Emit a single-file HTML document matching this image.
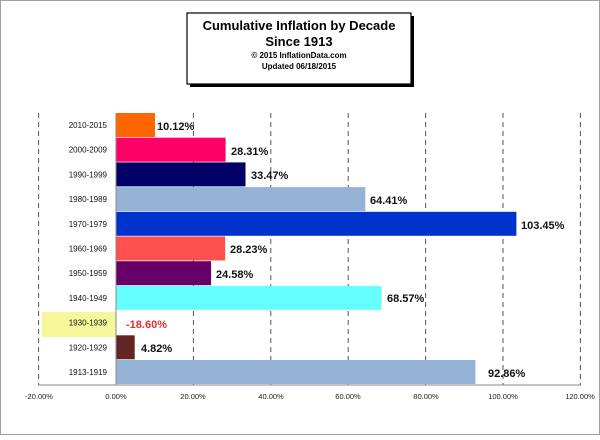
<!DOCTYPE html><html><head><style>body{margin:0;background:#fff}</style></head><body>
<svg width="600" height="435" xmlns="http://www.w3.org/2000/svg" font-family="Liberation Sans, sans-serif">
<rect x="0.5" y="0.5" width="599" height="434" fill="#fff" stroke="#a0a0a0"/>
<rect x="190" y="16" width="224" height="71" fill="#000"/>
<rect x="187" y="13" width="224" height="71" fill="#fff" stroke="#000" stroke-width="1.2"/>
<g text-anchor="middle" font-weight="bold">
<text x="299" y="30" font-size="13">Cumulative Inflation by Decade</text>
<text x="299" y="46" font-size="13">Since 1913</text>
<text x="299" y="58" font-size="8">© 2015  InflationData.com</text>
<text x="299" y="69" font-size="8">Updated  06/18/2015</text>
</g>
<rect x="42" y="312" width="74" height="25" fill="#f5f79a"/>
<g stroke="#555" stroke-dasharray="5,4" stroke-width="1">
<line x1="38.6" y1="113" x2="38.6" y2="385"/><line x1="193.4" y1="113" x2="193.4" y2="385"/><line x1="270.8" y1="113" x2="270.8" y2="385"/><line x1="348.2" y1="113" x2="348.2" y2="385"/><line x1="425.6" y1="113" x2="425.6" y2="385"/><line x1="503" y1="113" x2="503" y2="385"/><line x1="580.4" y1="113" x2="580.4" y2="385"/>
</g>
<g>
<rect x="116" y="113" width="39" height="24" fill="#ff6600"/>
<rect x="116" y="137.7" width="109.6" height="24" fill="#ff0066"/>
<rect x="116" y="162.4" width="129.5" height="24" fill="#000066"/>
<rect x="116" y="187.1" width="249.3" height="24" fill="#95b3d7"/>
<rect x="116" y="211.8" width="400.4" height="24" fill="#0033cc"/>
<rect x="116" y="236.5" width="109.2" height="24" fill="#ff5050"/>
<rect x="116" y="261.2" width="95.1" height="24" fill="#660066"/>
<rect x="116" y="285.9" width="265.4" height="24" fill="#66ffff"/>
<rect x="116" y="335.3" width="18.7" height="24" fill="#632523"/>
<rect x="116" y="360" width="359.4" height="24" fill="#95b3d7"/>
</g>
<line x1="116" y1="113" x2="116" y2="385" stroke="#888"/>
<line x1="38" y1="385" x2="581" y2="385" stroke="#888"/>
<g font-size="8" text-anchor="end" fill="#111">
<text x="107" y="128">2010-2015</text><text x="107" y="152.7">2000-2009</text><text x="107" y="177.4">1990-1999</text><text x="107" y="202.1">1980-1989</text><text x="107" y="226.8">1970-1979</text><text x="107" y="251.5">1960-1969</text><text x="107" y="276.2">1950-1959</text><text x="107" y="300.9">1940-1949</text><text x="107" y="325.6">1930-1939</text><text x="107" y="350.3">1920-1929</text><text x="107" y="375">1913-1919</text>
</g>
<g font-size="11" font-weight="bold" fill="#111">
<text x="157" y="130">10.12%</text><text x="231" y="155">28.31%</text><text x="251" y="179">33.47%</text><text x="370" y="204">64.41%</text><text x="521" y="229">103.45%</text><text x="230" y="253">28.23%</text><text x="216" y="278">24.58%</text><text x="387" y="302">68.57%</text><text x="126" y="328" fill="#e03030">-18.60%</text><text x="141" y="352">4.82%</text><text x="488" y="377">92.86%</text>
</g>
<g font-size="7.5" text-anchor="middle" fill="#222">
<text x="39" y="399">-20.00%</text><text x="116" y="399">0.00%</text><text x="193" y="399">20.00%</text><text x="271" y="399">40.00%</text><text x="348" y="399">60.00%</text><text x="426" y="399">80.00%</text><text x="503" y="399">100.00%</text><text x="580" y="399">120.00%</text>
</g>
</svg>
</body></html>
